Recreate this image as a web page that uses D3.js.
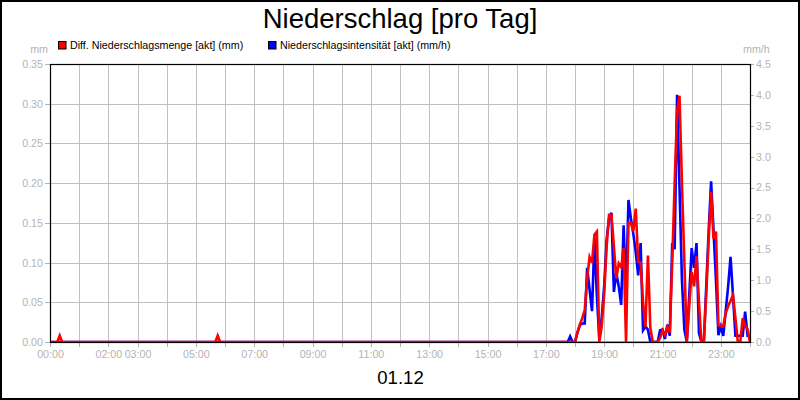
<!DOCTYPE html>
<html>
<head>
<meta charset="utf-8">
<script src="https://cdn.jsdelivr.net/npm/d3@7"></script>
<style>
    body { margin: 0; background: #fff; }
    svg { display: block; font-family: "Liberation Sans", Arial, sans-serif; }
    .grid line { stroke: #c0c0c0; stroke-width: 1; shape-rendering: crispEdges; }
    .axis text { fill: #b4b4b4; }
    .axis line { stroke: #b4b4b4; shape-rendering: crispEdges; }
    .axis path { display: none; }
</style>
</head>
<body>
<svg id="chart" width="800" height="400"></svg>
<script>
// Diff. Niederschlagsmenge (mm), 5 min Werte
var redTimes = ["00:00", "00:15", "00:20", "00:25", "05:40", "05:45", "05:50", "18:00",
    "18:05", "18:10", "18:15", "18:20", "18:25", "18:30", "18:35", "18:40", "18:45", "18:50", "18:55",
    "19:00", "19:05", "19:10", "19:15", "19:20", "19:25", "19:30", "19:35", "19:40", "19:45", "19:50", "19:55",
    "20:00", "20:05", "20:10", "20:15", "20:20", "20:25", "20:30", "20:35", "20:40", "20:50", "20:55",
    "21:00", "21:05", "21:10", "21:15", "21:20", "21:25", "21:30", "21:35", "21:40", "21:45", "21:50", "21:55",
    "22:00", "22:05", "22:10", "22:15", "22:20", "22:25", "22:30", "22:35", "22:40", "22:45", "22:50", "22:55",
    "23:00", "23:05", "23:10", "23:15", "23:20", "23:25", "23:30", "23:35", "23:40", "23:45", "23:50", "23:55", "24:00"];
var redValues = [0, 0, 0.008, 0, 0, 0.008, 0, 0,
    0.012, 0.022, 0.03, 0.04, 0.08, 0.107, 0.1, 0.135, 0.139, 0, 0.02,
    0.06, 0.12, 0.16, 0.16, 0.12, 0.08, 0.099, 0.094, 0.118, 0, 0.15, 0.15,
    0.14, 0.168, 0.101, 0.1, 0.05, 0.019, 0.109, 0.018, 0, 0, 0.005,
    0.015, 0.009, 0.019, 0.012, 0.1, 0.2, 0.29, 0.31, 0.2, 0.1, 0, 0.045,
    0.088, 0.07, 0.108, 0.05, 0, 0, 0.06, 0.13, 0.189, 0.13, 0.139, 0.021,
    0.02, 0.02, 0.036, 0.045, 0.052, 0.059, 0.03, 0, 0, 0.03, 0.021, 0.016, 0];

// Niederschlagsintensität (mm/h)
var blueTimes = ["00:00", "17:45", "17:50", "17:55", "18:00",
    "18:05", "18:10", "18:15", "18:20", "18:25", "18:30", "18:35", "18:40", "18:45", "18:50", "18:55",
    "19:00", "19:05", "19:10", "19:15", "19:20", "19:25", "19:30", "19:35", "19:40", "19:45", "19:50", "19:55",
    "20:00", "20:05", "20:10", "20:15", "20:20", "20:25", "20:30", "20:35", "20:50", "20:55",
    "21:00", "21:05", "21:10", "21:15", "21:20", "21:25", "21:30", "21:35", "21:40", "21:45", "21:50", "21:55",
    "22:00", "22:05", "22:10", "22:15", "22:20", "22:25", "22:30", "22:35", "22:40", "22:45", "22:50", "22:55",
    "23:00", "23:05", "23:10", "23:15", "23:20", "23:25", "23:30", "23:35", "23:40", "23:45", "23:50", "23:55", "24:00"];
var blueValues = [0, 0, 0.09, 0, 0,
    0.15, 0.27, 0.3, 0.3, 1.2, 0.85, 0.5, 1.68, 0.75, 0.05, 0.4,
    0.9, 1.65, 2.0, 2.09, 0.81, 1.12, 0.9, 0.6, 1.89, 0.79, 2.3, 2.0,
    1.75, 1.45, 1.08, 1.6, 0.19, 0.25, 0.2, 0, 0, 0.19,
    0.2, 0.05, 0.28, 0.1, 1.6, 1.5, 4.0, 2.5, 1.0, 0.2, 0, 0.75,
    1.52, 1.2, 1.6, 0.15, 0, 0, 0.9, 1.8, 2.6, 1.8, 1.0, 0.11,
    0.25, 0.1, 0.5, 0.9, 1.38, 0.75, 0.1, 0.1, 0.1, 0.1, 0.49, 0.1, 0.1];

var hourTicks = [0, 2, 3, 5, 7, 9, 11, 13, 15, 17, 19, 21, 23];
var leftTicks = [0, 0.05, 0.10, 0.15, 0.20, 0.25, 0.30, 0.35];
var rightTicks = [0, 0.5, 1.0, 1.5, 2.0, 2.5, 3.0, 3.5, 4.0, 4.5];

var title = "Niederschlag [pro Tag]";
var dayLabel = "01.12";
var legendItems = [
    { name: "Diff. Niederschlagsmenge [akt] (mm)", color: "#ff0000" },
    { name: "Niederschlagsintensität [akt] (mm/h)", color: "#0000ff" }
];

var plot = { left: 50, right: 750, top: 64, bottom: 342 };
var smallFont = "10.7px";

function toHours(t) {
    var p = t.split(":");
    return +p[0] + p[1] / 60;
}

var svg = d3.select("#chart");

var x = d3.scaleLinear().domain([0, 24]).range([plot.left, plot.right]);
var yLeft = d3.scaleLinear().domain([0, 0.35]).range([plot.bottom, plot.top]);
var yRight = d3.scaleLinear().domain([0, 4.5]).range([plot.bottom, plot.top]);

// outer frame
svg.append("rect")
    .attr("x", 1).attr("y", 1).attr("width", 798).attr("height", 398)
    .attr("fill", "#fff").attr("stroke", "#000").attr("stroke-width", 2);

// grid
var grid = svg.append("g").attr("class", "grid");
grid.selectAll(".v").data(d3.range(1, 24)).enter().append("line")
    .attr("x1", function (d) { return Math.round(x(d)) + 0.5; })
    .attr("x2", function (d) { return Math.round(x(d)) + 0.5; })
    .attr("y1", plot.top).attr("y2", plot.bottom);
grid.selectAll(".h").data(leftTicks.slice(1, -1)).enter().append("line")
    .attr("x1", plot.left).attr("x2", plot.right)
    .attr("y1", function (d) { return Math.round(yLeft(d)) + 0.5; })
    .attr("y2", function (d) { return Math.round(yLeft(d)) + 0.5; });

// axes
var xAxis = d3.axisBottom(x).tickValues(d3.range(0, 25)).tickSize(5).tickPadding(3)
    .tickFormat(function (d) { return hourTicks.indexOf(d) >= 0 ? d3.format("02d")(d) + ":00" : ""; });
svg.append("g").attr("class", "axis").attr("transform", "translate(0," + plot.bottom + ")").call(xAxis);

var leftAxis = d3.axisLeft(yLeft).tickValues(leftTicks).tickSize(5).tickPadding(2).tickFormat(d3.format(".2f"));
svg.append("g").attr("class", "axis").attr("transform", "translate(" + plot.left + ",0)").call(leftAxis);

var rightAxis = d3.axisRight(yRight).tickValues(rightTicks).tickSize(4).tickPadding(2).tickFormat(d3.format(".1f"));
svg.append("g").attr("class", "axis").attr("transform", "translate(" + plot.right + ",0)").call(rightAxis);

svg.selectAll(".axis text").style("font-size", smallFont);

// series
function makePoints(times, values) {
    return times.map(function (t, i) { return [toHours(t), values[i]]; });
}
var blueLine = d3.line().x(function (d) { return x(d[0]); }).y(function (d) { return yRight(d[1]); });
var redLine = d3.line().x(function (d) { return x(d[0]); }).y(function (d) { return yLeft(d[1]); });

svg.append("clipPath").attr("id", "plotClip").append("rect")
    .attr("x", plot.left).attr("y", plot.top - 2)
    .attr("width", plot.right - plot.left).attr("height", plot.bottom - plot.top + 2);

var series = svg.append("g").attr("clip-path", "url(#plotClip)");
series.append("path").datum(makePoints(blueTimes, blueValues))
    .attr("d", blueLine).attr("fill", "none")
    .attr("stroke", legendItems[1].color).attr("stroke-width", 2.6);
series.append("path").datum(makePoints(redTimes, redValues))
    .attr("d", redLine).attr("fill", "none")
    .attr("stroke", legendItems[0].color).attr("stroke-width", 2.6);

// plot border
svg.append("rect")
    .attr("x", plot.left + 0.5).attr("y", plot.top + 0.5)
    .attr("width", plot.right - plot.left).attr("height", plot.bottom - plot.top)
    .attr("fill", "none").attr("stroke", "#000").attr("stroke-width", 1.2);
// red baseline over the bottom axis, like the original
series.append("line")
    .attr("x1", plot.left).attr("x2", plot.right)
    .attr("y1", yLeft(0)).attr("y2", yLeft(0))
    .attr("stroke", "#ff0000").attr("stroke-width", 1.2);

// texts
svg.append("text").attr("x", 400).attr("y", 28).attr("text-anchor", "middle")
    .style("font-size", "27.5px").text(title);

svg.append("text").attr("x", 48).attr("y", 52.5).attr("text-anchor", "end")
    .style("font-size", smallFont).attr("fill", "#b4b4b4").text("mm");
svg.append("text").attr("x", 743).attr("y", 52.5)
    .style("font-size", smallFont).attr("fill", "#b4b4b4").text("mm/h");

svg.append("text").attr("x", 400.5).attr("y", 384).attr("text-anchor", "middle")
    .style("font-size", "18.6px").text(dayLabel);

// legend
var legendX = [58, 268];
var legend = svg.selectAll(".legend").data(legendItems).enter().append("g")
    .attr("transform", function (d, i) { return "translate(" + legendX[i] + ",41)"; });
legend.append("rect").attr("x", 0.5).attr("y", 0.5).attr("width", 7.5).attr("height", 7.5)
    .attr("fill", function (d) { return d.color; }).attr("stroke", "#000").attr("stroke-width", 1);
legend.append("text").attr("x", 12).attr("y", 7.8).style("font-size", smallFont)
    .text(function (d) { return d.name; });
</script>
</body>
</html>
